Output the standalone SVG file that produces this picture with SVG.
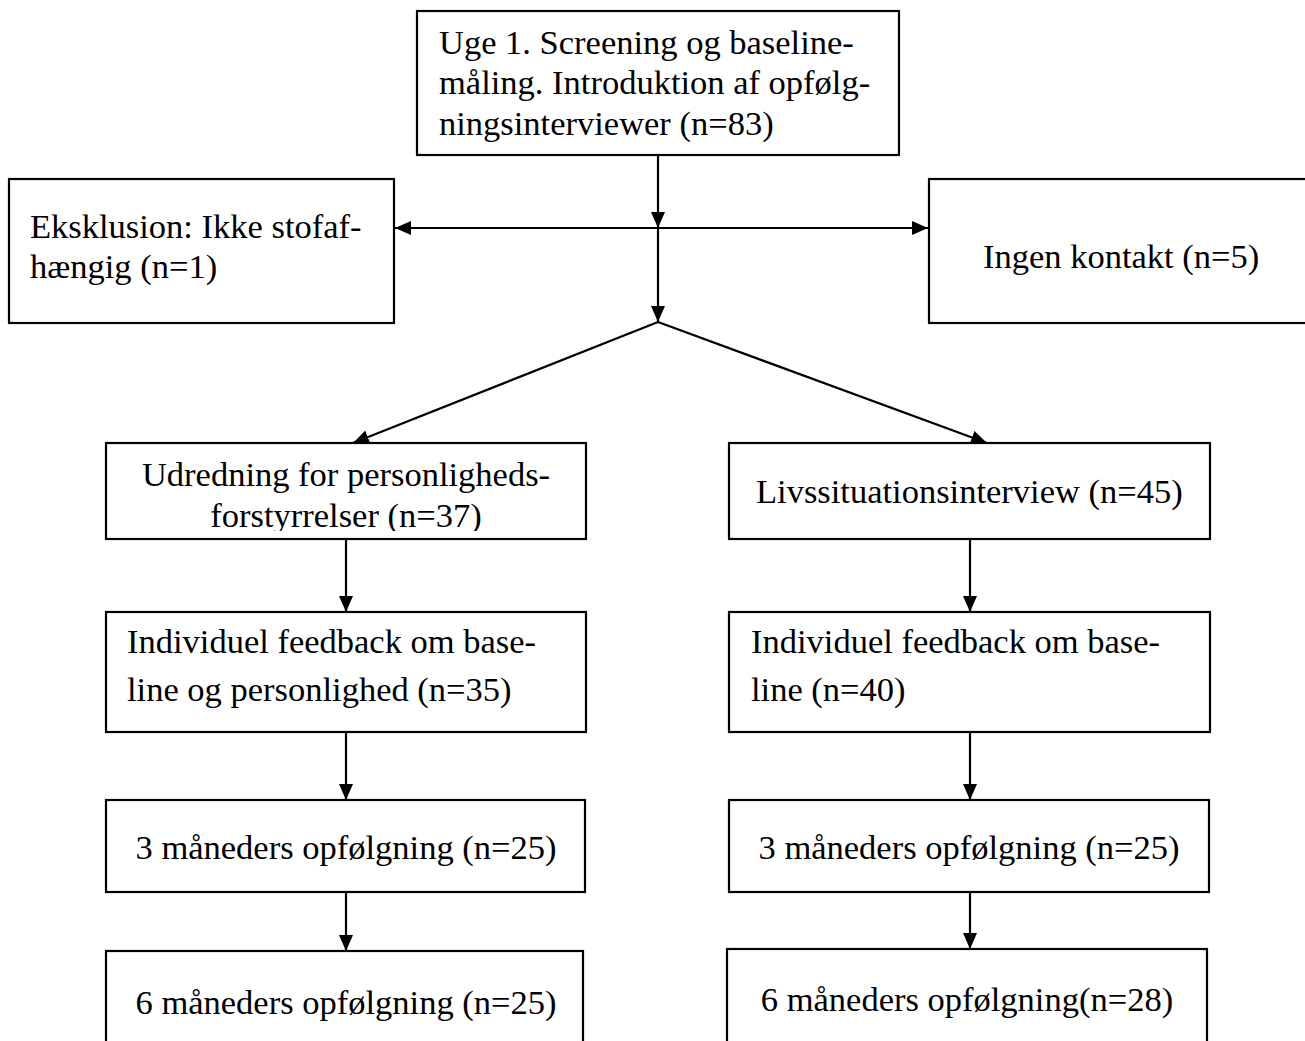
<svg xmlns="http://www.w3.org/2000/svg" width="1305" height="1041" viewBox="0 0 1305 1041">
<style>
.box{fill:#fff;stroke:#000;stroke-width:2.2}
.t{font-family:"Liberation Serif","Times New Roman",serif;font-size:34.5px;fill:#000}
.c{text-anchor:middle}
.con{stroke:#000;stroke-width:2.2;fill:none}
</style>
<defs>
<marker id="ah" viewBox="0 0 16 14" refX="16" refY="7" markerWidth="16" markerHeight="14" markerUnits="userSpaceOnUse" orient="auto-start-reverse">
<path d="M0,0 L16,7 L0,14 z" fill="#000"/>
</marker>
<clipPath id="clipU"><rect x="106" y="443" width="480" height="88"/></clipPath>
</defs>
<rect width="1305" height="1041" fill="#fff"/>
<g id="connectors">
<line class="con" x1="658" y1="155" x2="658" y2="228" marker-end="url(#ah)"/>
<line class="con" x1="658" y1="228" x2="658" y2="322" marker-end="url(#ah)"/>
<line class="con" x1="395" y1="228" x2="928" y2="228" marker-start="url(#ah)" marker-end="url(#ah)"/>
<line class="con" x1="658" y1="322" x2="353" y2="443" marker-end="url(#ah)"/>
<line class="con" x1="658" y1="322" x2="987" y2="443" marker-end="url(#ah)"/>
<line class="con" x1="346" y1="539" x2="346" y2="612" marker-end="url(#ah)"/>
<line class="con" x1="970" y1="539" x2="970" y2="612" marker-end="url(#ah)"/>
<line class="con" x1="346" y1="732" x2="346" y2="800" marker-end="url(#ah)"/>
<line class="con" x1="970" y1="732" x2="970" y2="800" marker-end="url(#ah)"/>
<line class="con" x1="346" y1="892" x2="346" y2="951" marker-end="url(#ah)"/>
<line class="con" x1="970" y1="892" x2="970" y2="949" marker-end="url(#ah)"/>
</g>
<g id="n-start">
<rect class="box" x="417" y="11" width="482" height="144"/>
<text class="t" x="439" y="54">Uge 1. Screening og baseline-</text>
<text class="t" x="439" y="94">måling. Introduktion af opfølg-</text>
<text class="t" x="439" y="135">ningsinterviewer (n=83)</text>
</g>
<g id="n-excl">
<rect class="box" x="9" y="179" width="385" height="144"/>
<text class="t" x="30" y="238">Eksklusion: Ikke stofaf-</text>
<text class="t" x="30" y="278">hængig (n=1)</text>
</g>
<g id="n-nocontact">
<rect class="box" x="929" y="179" width="390" height="144"/>
<text class="t" x="983" y="268">Ingen kontakt (n=5)</text>
</g>
<g id="n-udred">
<rect class="box" x="106" y="443" width="480" height="96"/>
<g clip-path="url(#clipU)">
<text class="t c" x="346" y="486">Udredning for personligheds-</text>
<text class="t c" x="346" y="527">forstyrrelser (n=37)</text>
</g>
</g>
<g id="n-livs">
<rect class="box" x="729" y="443" width="481" height="96"/>
<text class="t" x="756" y="503">Livssituationsinterview (n=45)</text>
</g>
<g id="n-fb-left">
<rect class="box" x="106" y="612" width="480" height="120"/>
<text class="t" x="127" y="653">Individuel feedback om base-</text>
<text class="t" x="127" y="701">line og personlighed (n=35)</text>
</g>
<g id="n-fb-right">
<rect class="box" x="729" y="612" width="481" height="120"/>
<text class="t" x="751" y="653">Individuel feedback om base-</text>
<text class="t" x="751" y="701">line (n=40)</text>
</g>
<g id="n-3m-left">
<rect class="box" x="106" y="800" width="479" height="92"/>
<text class="t c" x="346" y="859">3 måneders opfølgning (n=25)</text>
</g>
<g id="n-3m-right">
<rect class="box" x="729" y="800" width="480" height="92"/>
<text class="t c" x="969" y="859">3 måneders opfølgning (n=25)</text>
</g>
<g id="n-6m-left">
<rect class="box" x="106" y="951" width="477" height="110"/>
<text class="t c" x="346" y="1014">6 måneders opfølgning (n=25)</text>
</g>
<g id="n-6m-right">
<rect class="box" x="727" y="949" width="480" height="112"/>
<text class="t c" x="967" y="1011">6 måneders opfølgning(n=28)</text>
</g>
</svg>
